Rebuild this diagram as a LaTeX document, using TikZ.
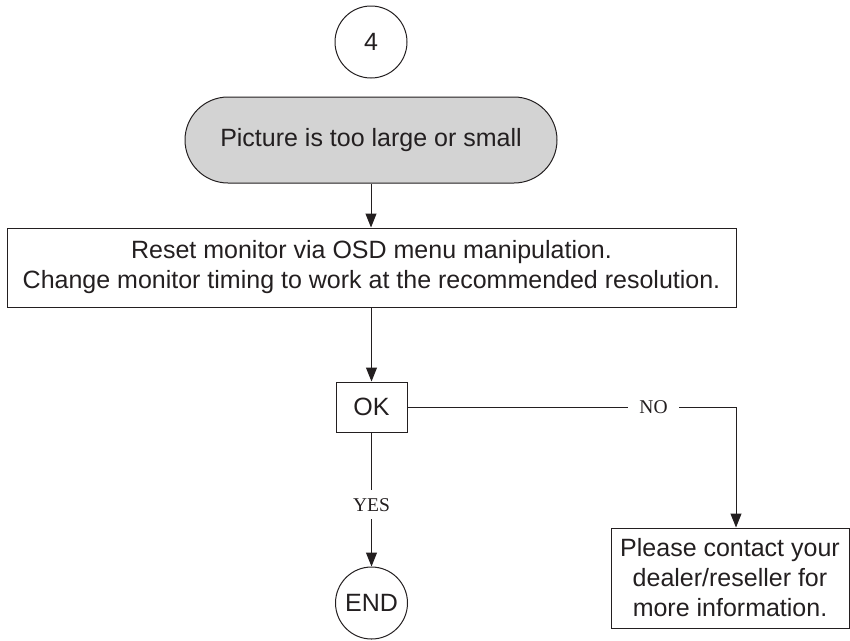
\documentclass[tikz,border=0pt]{standalone}
\usepackage{fontspec}
\usepackage{tikz}
\usepackage{xcolor}
\usetikzlibrary{positioning,arrows.meta,calc}
\newfontfamily\flowsans{Liberation Sans}
\newfontfamily\flowserif{Liberation Serif}
\definecolor{termgray}{RGB}{211,211,211}
\definecolor{inkgray}{RGB}{35,31,32}

\begin{document}
\begin{tikzpicture}[
      x=1pt, y=-1pt,
      line width=1pt, draw=inkgray,
      every node/.style={text=inkgray},
      conn/.style={circle, draw, minimum size=72pt, inner sep=0pt, font=\flowsans\fontsize{25}{30}\selectfont},
      term/.style={draw, fill=termgray, rounded corners=43pt, minimum width=372pt, minimum height=86pt, font=\flowsans\fontsize{25}{30}\selectfont},
      box/.style={draw, align=center, inner sep=0pt, font=\flowsans\fontsize{25}{30}\selectfont},
      lbl/.style={fill=white, inner xsep=11pt, inner ysep=8pt, font=\flowserif\fontsize{19.5}{22}\selectfont},
      arr/.style={-{Triangle[length=14pt,width=11pt]}}
  ]
    \useasboundingbox (0,0) rectangle (850,640);
    \node[conn] (start) at (371,42) {4};
    \node[term] (symptom) at (371,140) {Picture is too large or small};
    \node[box, minimum width=729pt, minimum height=79pt] (reset) at (371.5,267.5) {Reset monitor via OSD menu manipulation.\\Change monitor timing to work at the recommended resolution.};
    \node[box, minimum width=71pt, minimum height=50pt] (ok) at (371.5,407) {OK};
    \node[conn] (end) at (371.5,603) {END};
    \node[box, minimum width=238pt, minimum height=100pt] (dealer) at (730,578) {Please contact your\\dealer/reseller for\\more information.};
    \coordinate (turn) at (736,407);
    \draw[arr] (symptom) -- (symptom |- reset.north);
    \draw[arr] (reset.south -| ok) -- (ok);
    \draw[arr] (ok) -- node[lbl, pos=0.54] {YES} (end);
    \draw[arr] (ok) -- node[lbl, pos=0.749] {NO} (turn) -- (turn |- dealer.north);
  \end{tikzpicture}
\end{document}
